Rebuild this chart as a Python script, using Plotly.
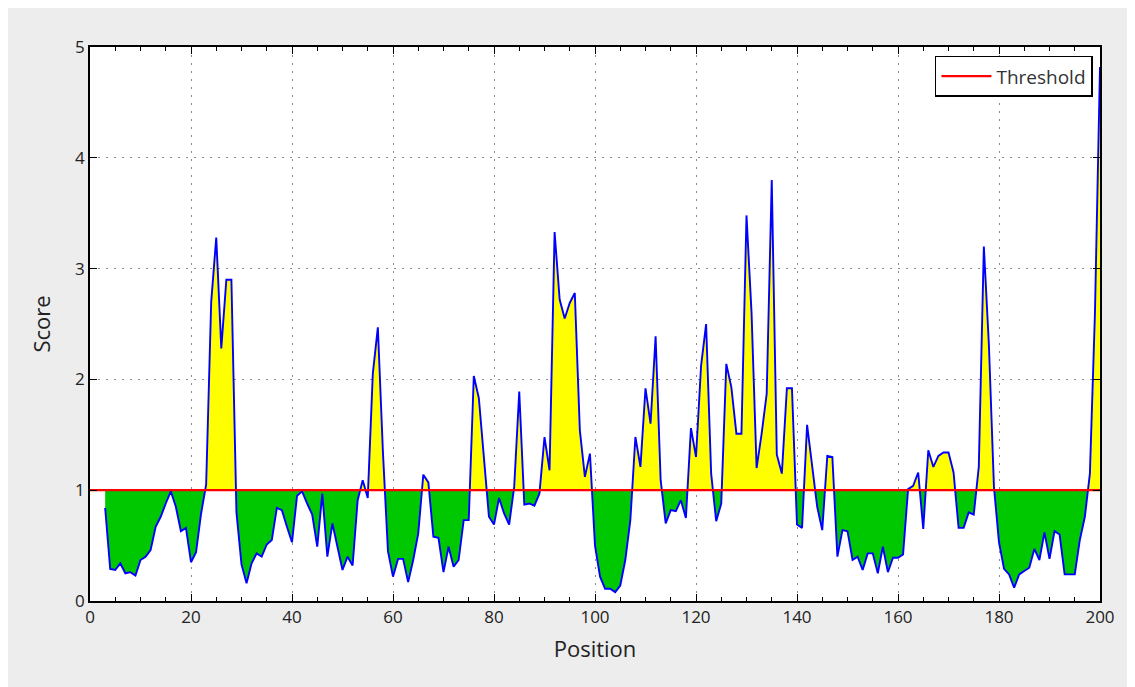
import numpy as np
import plotly.graph_objects as go

# ---- data ----
positions = list(range(3, 201))
scores = [
    0.84, 0.29, 0.28, 0.34, 0.25, 0.26, 0.23, 0.37, 0.40, 0.46,   # 3-12
    0.67, 0.76, 0.88, 0.99, 0.85, 0.63, 0.66, 0.35, 0.44, 0.79,   # 13-22
    1.05, 2.70, 3.28, 2.28, 2.90, 2.90, 0.80, 0.33, 0.16, 0.34,   # 23-32
    0.43, 0.40, 0.51, 0.55, 0.84, 0.82, 0.67, 0.53, 0.95, 0.99,   # 33-42
    0.88, 0.78, 0.49, 0.97, 0.40, 0.70, 0.49, 0.28, 0.40, 0.32,   # 43-52
    0.91, 1.09, 0.93, 2.05, 2.47, 1.35, 0.45, 0.22, 0.38, 0.38,   # 53-62
    0.17, 0.37, 0.61, 1.14, 1.07, 0.58, 0.57, 0.26, 0.49, 0.31,   # 63-72
    0.37, 0.73, 0.73, 2.03, 1.83, 1.30, 0.76, 0.69, 0.93, 0.79,   # 73-82
    0.69, 1.03, 1.89, 0.87, 0.88, 0.86, 0.97, 1.48, 1.18, 3.33,   # 83-92
    2.72, 2.55, 2.69, 2.78, 1.54, 1.12, 1.33, 0.50, 0.22, 0.11,   # 93-102
    0.11, 0.08, 0.14, 0.37, 0.73, 1.48, 1.21, 1.92, 1.60, 2.39,   # 103-112
    1.09, 0.70, 0.82, 0.81, 0.91, 0.75, 1.56, 1.30, 2.12, 2.50,   # 113-122
    1.15, 0.72, 0.88, 2.14, 1.93, 1.51, 1.51, 3.48, 2.60, 1.20,   # 123-132
    1.51, 1.87, 3.80, 1.32, 1.15, 1.92, 1.92, 0.69, 0.66, 1.59,   # 133-142
    1.24, 0.85, 0.64, 1.31, 1.30, 0.40, 0.64, 0.63, 0.37, 0.40,   # 143-152
    0.28, 0.43, 0.43, 0.25, 0.49, 0.26, 0.39, 0.39, 0.42, 1.01,   # 153-162
    1.04, 1.16, 0.65, 1.36, 1.21, 1.31, 1.34, 1.34, 1.16, 0.66,   # 163-172
    0.66, 0.80, 0.78, 1.21, 3.20, 2.31, 1.03, 0.53, 0.29, 0.24,   # 173-182
    0.12, 0.24, 0.27, 0.30, 0.47, 0.37, 0.62, 0.38, 0.63, 0.60,   # 183-192
    0.24, 0.24, 0.24, 0.55, 0.76, 1.15, 2.60, 4.82,               # 193-200
]
threshold = 1.0
x_range = [0, 200]
y_range = [0, 5]
x_ticks = [0, 20, 40, 60, 80, 100, 120, 140, 160, 180, 200]
y_ticks = [0, 1, 2, 3, 4, 5]

# ---- split fill at threshold crossings ----
x = np.array(positions, dtype=float)
y = np.array(scores, dtype=float)
xs, ys = [x[0]], [y[0]]
for i in range(1, len(x)):
    y0, y1 = y[i - 1], y[i]
    if (y0 - threshold) * (y1 - threshold) < 0:
        t = (threshold - y0) / (y1 - y0)
        xs.append(x[i - 1] + t * (x[i] - x[i - 1]))
        ys.append(threshold)
    xs.append(x[i])
    ys.append(y[i])
xs = np.array(xs)
ys = np.array(ys)
below = np.minimum(ys, threshold)
above = np.maximum(ys, threshold)
base = np.full_like(xs, threshold)

FONT = "Open Sans"
fig = go.Figure()
for vals, col in [(below, "#00c800"), (above, "#ffff00")]:
    fig.add_trace(go.Scatter(x=xs, y=base, mode="lines", line=dict(width=0),
                             showlegend=False, hoverinfo="skip"))
    fig.add_trace(go.Scatter(x=xs, y=vals, mode="lines", line=dict(width=0),
                             fill="tonexty", fillcolor=col,
                             showlegend=False, hoverinfo="skip"))
fig.add_trace(go.Scatter(x=positions, y=scores, mode="lines",
                         line=dict(color="#0000ff", width=1.9),
                         showlegend=False, name="Score"))
fig.add_trace(go.Scatter(x=x_range, y=[threshold, threshold], mode="lines",
                         line=dict(color="#ff0000", width=2.2),
                         name="Threshold", showlegend=True))

axis_common = dict(
    showline=True, linecolor="black", linewidth=1.5, mirror="ticks",
    ticks="inside", ticklen=7, tickcolor="black", tickwidth=1,
    showgrid=True, gridcolor="#8c8c8c", gridwidth=1, griddash="2px,6px",
    zeroline=False, tickfont=dict(family=FONT, size=17, color="#222222"),
)
fig.update_xaxes(range=x_range, tickvals=x_ticks, **axis_common,
                 minor=dict(dtick=5, tick0=0, ticks="inside", ticklen=4,
                            tickcolor="black", showgrid=False),
                 title=dict(text="Position", font=dict(family=FONT, size=22, color="#222222"),
                            standoff=14))
fig.update_yaxes(range=y_range, tickvals=y_ticks, **axis_common,
                 title=dict(text="Score", font=dict(family=FONT, size=22, color="#222222"),
                            standoff=18))

fig.update_layout(
    width=1127, height=679,
    margin=dict(l=82, r=35, t=39, b=86),
    paper_bgcolor="#ededed", plot_bgcolor="white",
    font=dict(family=FONT, color="#222222"),
    legend=dict(x=0.993, y=0.984, xanchor="right", yanchor="top",
                bgcolor="white", bordercolor="black", borderwidth=1.5,
                itemwidth=50,
                font=dict(family=FONT, size=19, color="#333333")),
)

fig.write_html("out.html")
